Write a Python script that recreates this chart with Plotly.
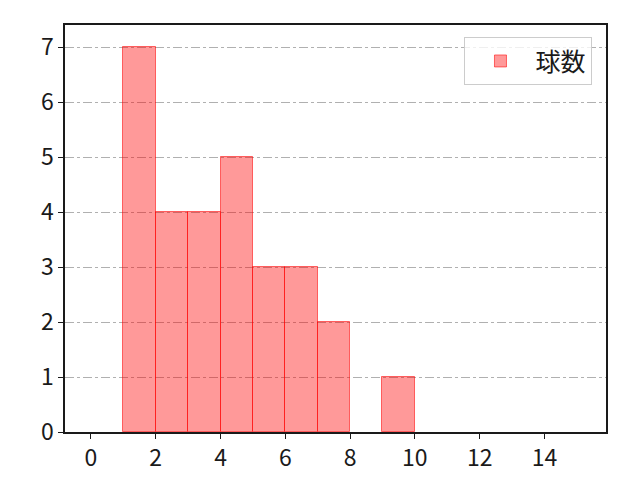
import plotly.graph_objects as go

# histogram of pitch counts, bin width 1
bin_left = [1, 2, 3, 4, 5, 6, 7, 8, 9]
counts = [7, 4, 4, 5, 3, 3, 2, 0, 1]
bin_width = 1
x_ticks = [0, 2, 4, 6, 8, 10, 12, 14]
y_ticks = [0, 1, 2, 3, 4, 5, 6, 7]

# empty bins are not drawn (matplotlib draws nothing for them)
centers = [b + bin_width / 2 for b, c in zip(bin_left, counts) if c > 0]
heights = [c for c in counts if c > 0]

fig = go.Figure(
    go.Bar(
        x=centers,
        y=heights,
        width=bin_width,
        name="球数",
        marker=dict(
            color="rgba(255,0,0,0.4)",
            line=dict(color="rgba(255,0,0,0.55)", width=1),
        ),
        showlegend=True,
    )
)

axis_common = dict(
    showline=True,
    linecolor="#1a1a1a",
    linewidth=1.5,
    mirror=True,
    ticks="outside",
    ticklen=5,
    tickwidth=1.2,
    tickcolor="#1a1a1a",
    zeroline=False,
    tickfont=dict(size=23, color="#1a1a1a"),
)

fig.update_xaxes(
    range=[-0.8, 15.9],
    tickvals=x_ticks,
    showgrid=False,
    **axis_common,
)
fig.update_yaxes(
    range=[0, 7.4],
    tickvals=y_ticks,
    showgrid=True,
    gridcolor="#b0b0b0",
    gridwidth=1,
    griddash="dashdot",
    **axis_common,
)

fig.update_layout(
    width=640,
    height=480,
    margin=dict(l=57, r=42, t=17, b=56),
    paper_bgcolor="white",
    plot_bgcolor="white",
    font=dict(family="Noto Sans CJK JP, DejaVu Sans, sans-serif", color="#1a1a1a"),
    bargap=0,
    legend=dict(
        x=0.975,
        y=0.97,
        xanchor="right",
        yanchor="top",
        bgcolor="rgba(255,255,255,0.8)",
        bordercolor="#cccccc",
        borderwidth=1,
        font=dict(size=25),
        itemwidth=60,
    ),
)

fig.write_html("out.html")
